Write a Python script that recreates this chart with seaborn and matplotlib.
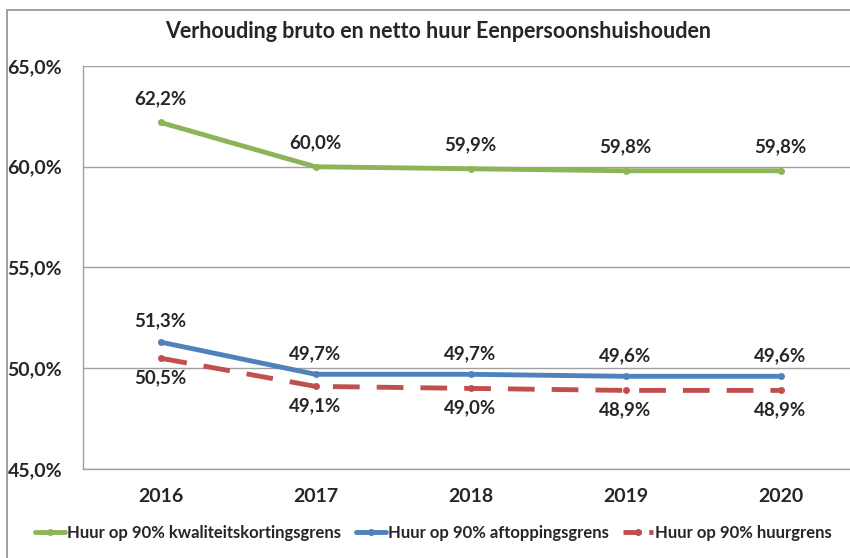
import numpy as np
import pandas as pd
import seaborn as sns
import matplotlib
matplotlib.use("Agg")
import matplotlib.pyplot as plt
from matplotlib.patches import Rectangle

years = ["2016", "2017", "2018", "2019", "2020"]
kwaliteit = [62.2, 60.0, 59.9, 59.8, 59.8]
aftopping = [51.3, 49.7, 49.7, 49.6, 49.6]
huurgrens = [50.5, 49.1, 49.0, 48.9, 48.9]
series_names = ["Huur op 90% kwaliteitskortingsgrens",
                "Huur op 90% aftoppingsgrens",
                "Huur op 90% huurgrens"]

df = pd.DataFrame({"jaar": years * 3,
                   "waarde": kwaliteit + aftopping + huurgrens,
                   "reeks": np.repeat(series_names, len(years))})

sns.set_style("white")
plt.rcParams['font.family'] = ['Lato', 'DejaVu Sans']
plt.rcParams['font.weight'] = 'bold'

colors = {series_names[0]: "#8db457", series_names[1]: "#4f81bd", series_names[2]: "#c0504d"}

fig = plt.figure(figsize=(8.5, 5.58), dpi=100)
ax = fig.add_axes([83/850, 1-469/558, (858-83)/850, (469-66)/558])

sns.lineplot(data=df, x="jaar", y="waarde", hue="reeks", palette=colors,
             style="reeks", dashes={series_names[0]: "", series_names[1]: "", series_names[2]: (5.5, 3.5)},
             markers={n: "o" for n in series_names}, markersize=5, markeredgewidth=0,
             linewidth=3.5, ax=ax, legend=False, sort=False)

def fmt(v):
    return f"{v:.1f}%".replace(".", ",")

lab = dict(ha="center", fontsize=13.5, fontweight="bold", textcoords="offset points")
for i, v in enumerate(kwaliteit):
    ax.annotate(fmt(v), (i, v), xytext=(0, 11), va="bottom", **lab)
for i, v in enumerate(aftopping):
    ax.annotate(fmt(v), (i, v), xytext=(0, 9), va="bottom", **lab)
for i, v in enumerate(huurgrens):
    ax.annotate(fmt(v), (i, v), xytext=(0, -8), va="top", **lab)

ax.set_ylim(45, 65)
ax.set_xlim(-0.5, 4.5)
ax.set_yticks([45, 50, 55, 60, 65])
ax.set_yticklabels([fmt(t) for t in [45, 50, 55, 60, 65]], fontsize=14, fontweight="bold")
ax.tick_params(axis="x", labelsize=14, pad=14, length=0)
ax.tick_params(axis="y", pad=15, length=0)
for lbl in ax.get_xticklabels():
    lbl.set_fontweight("bold")
ax.set_xlabel("")
ax.set_ylabel("")
ax.grid(axis="y", color="#a0a0a0", linewidth=1)
ax.set_axisbelow(True)
for s in ["top", "right"]:
    ax.spines[s].set_visible(False)
for s in ["left", "bottom"]:
    ax.spines[s].set_color("#a0a0a0")
    ax.spines[s].set_linewidth(1)

fig.text(0.515, 1-32/558, "Verhouding bruto en netto huur Eenpersoonshuishouden",
         ha="center", va="center", fontsize=15.5, fontweight="bold")

handles = [plt.Line2D([], [], color=colors[n], linewidth=3.5, marker="o", markersize=4,
                      linestyle="--" if n == series_names[2] else "-")
           for n in series_names]
fig.legend(handles, series_names, loc="center", bbox_to_anchor=(0.51, 1-533/558), ncol=3,
           frameon=False, fontsize=12, handlelength=1.8, handletextpad=0.1, columnspacing=0.9)

fig.patches.append(Rectangle((7/850, -0.05), 1.1, 1.05 - 10/558, transform=fig.transFigure,
                             fill=False, edgecolor="#909090", linewidth=1.2))

fig.savefig("out.png", dpi=100)
